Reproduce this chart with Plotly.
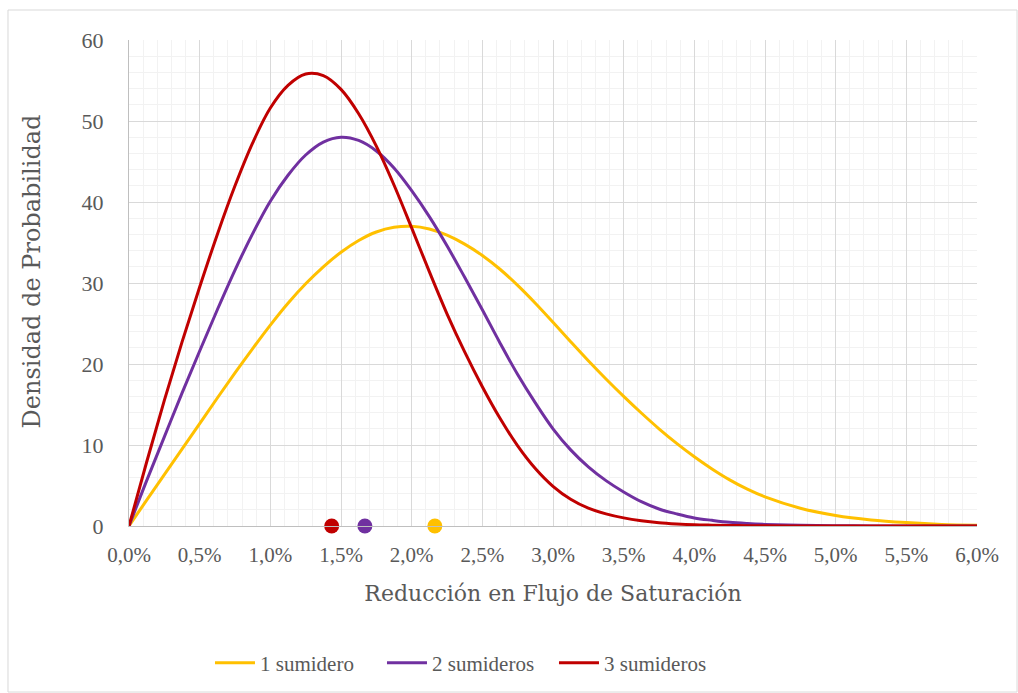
import plotly.graph_objects as go

# Reducción en flujo de saturación (%)
x_pct = [0.0, 0.125, 0.25, 0.375, 0.5, 0.625, 0.75, 0.875, 1.0, 1.125, 1.25, 1.375,
         1.5, 1.625, 1.75, 1.875, 2.0, 2.125, 2.25, 2.375, 2.5, 2.625, 2.75, 2.875,
         3.0, 3.125, 3.25, 3.375, 3.5, 3.625, 3.75, 3.875, 4.0, 4.125, 4.25, 4.375,
         4.5, 4.75, 5.0, 5.25, 5.5, 5.75, 6.0]

# Densidad de probabilidad de cada configuración
dens_1 = [0, 3.2, 6.35, 9.5, 12.65, 15.8, 18.9, 21.9, 24.8, 27.5, 29.9, 32.0,
          33.8, 35.25, 36.3, 36.87, 37.0, 36.66, 35.9, 34.8, 33.4, 31.7, 29.7, 27.5,
          25.15, 22.75, 20.4, 18.15, 16.0, 13.95, 12.0, 10.2, 8.55, 7.05, 5.7, 4.55,
          3.6, 2.2, 1.3, 0.75, 0.42, 0.2, 0.1]
dens_2 = [0, 5.6, 11.0, 16.4, 21.6, 26.7, 31.6, 36.1, 40.1, 43.3, 45.8, 47.4,
          48.0, 47.6, 46.3, 44.2, 41.4, 38.2, 34.6, 30.7, 26.7, 22.6, 18.7, 15.2,
          12.0, 9.4, 7.3, 5.6, 4.2, 3.0, 2.1, 1.5, 1.0, 0.7, 0.45, 0.3,
          0.2, 0.08, 0.03, 0.01, 0, 0, 0]
dens_3 = [0, 7.9, 15.5, 22.7, 29.5, 36.0, 42.0, 47.3, 51.6, 54.4, 55.8, 55.6,
          53.9, 50.9, 46.9, 42.1, 36.8, 31.4, 26.2, 21.5, 17.2, 13.3, 9.9, 7.1,
          4.9, 3.3, 2.2, 1.5, 1.0, 0.65, 0.4, 0.25, 0.15, 0.1, 0.06, 0.04,
          0.02, 0.01, 0, 0, 0, 0, 0]

# Valor medio de cada distribución (marcado sobre el eje)
means_pct = [2.164, 1.669, 1.434]

names = ["1 sumidero", "2 sumideros", "3 sumideros"]
colors = ["#FFC000", "#7030A0", "#C00000"]
series = [dens_1, dens_2, dens_3]

FONT = "Liberation Serif"
TITLE_FONT = "DejaVu Serif"
TXT = "#595959"

fig = go.Figure()
for name, col, ys in zip(names, colors, series):
    fig.add_trace(go.Scatter(
        x=x_pct, y=ys, mode="lines", name=name,
        line=dict(color=col, width=3, shape="spline", smoothing=1.0),
        cliponaxis=False,
    ))

for m, col in zip(means_pct, colors):
    fig.add_trace(go.Scatter(
        x=[m], y=[0], mode="markers", showlegend=False,
        marker=dict(color=col, size=15, line=dict(width=0)),
        cliponaxis=False,
    ))

# Marco exterior del gráfico
fig.add_shape(type="rect", xref="paper", yref="paper",
              x0=-0.1427, x1=1.0472, y0=-0.3416, y1=1.0617,
              line=dict(color="#D9D9D9", width=1), fillcolor="rgba(0,0,0,0)",
              layer="below")

# Título del eje vertical
fig.add_annotation(text="Densidad de Probabilidad", textangle=-90,
                   xref="paper", yref="paper", x=-0.1144, y=0.5237,
                   xanchor="center", yanchor="middle", showarrow=False,
                   font=dict(family=TITLE_FONT, size=24, color=TXT))

fig.update_layout(
    width=1018, height=693,
    margin=dict(l=129, r=41, t=40, b=167, autoexpand=False),
    paper_bgcolor="white", plot_bgcolor="white",
    separators=",.",
    font=dict(family=FONT, color=TXT, size=21),
    showlegend=True,
    legend=dict(orientation="h", x=0.0955, xanchor="left", y=-0.282,
                yanchor="middle", font=dict(size=21, color=TXT),
                itemwidth=40, entrywidth=117, entrywidthmode="pixels",
                traceorder="normal"),
    xaxis=dict(
        range=[0, 6], dtick=0.5, tick0=0, tickformat=".1f", ticksuffix="%",
        showgrid=True, gridcolor="#D9D9D9", gridwidth=1,
        minor=dict(dtick=0.1, showgrid=True, gridcolor="#F2F2F2", gridwidth=1),
        showline=True, linecolor="#BFBFBF", linewidth=1,
        zeroline=False, ticks="", ticklabelstandoff=10, automargin=False,
        tickfont=dict(size=21),
        title=dict(text="Reducción en Flujo de Saturación",
                   font=dict(family=TITLE_FONT, size=22, color=TXT), standoff=19),
    ),
    yaxis=dict(
        range=[0, 60], dtick=10, tick0=0,
        showgrid=True, gridcolor="#D9D9D9", gridwidth=1,
        minor=dict(dtick=2, showgrid=True, gridcolor="#F2F2F2", gridwidth=1),
        showline=True, linecolor="#BFBFBF", linewidth=1,
        zeroline=False, ticks="", ticklabelstandoff=20, automargin=False,
        tickfont=dict(size=22),
    ),
)

fig.write_html("out.html")
